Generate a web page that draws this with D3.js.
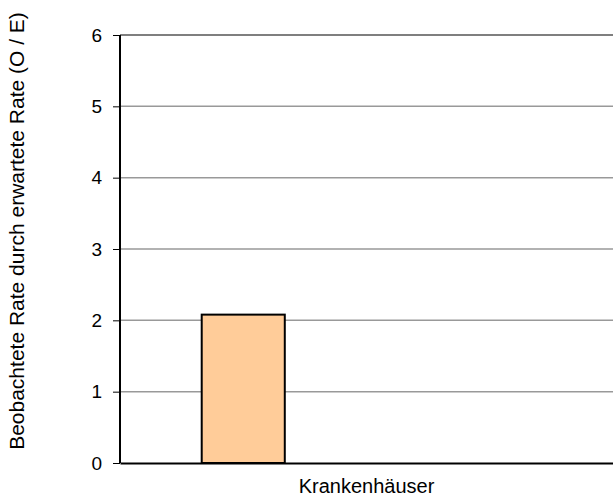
<!DOCTYPE html>
<html>
<head>
<meta charset="utf-8">
<script src="https://cdn.jsdelivr.net/npm/d3@7"></script>
<style>
  html, body { margin: 0; padding: 0; background: #fff; }
  svg text { font-family: "Liberation Sans", Arial, sans-serif; fill: #000; }
</style>
</head>
<body>
<svg id="chart" width="613" height="498"></svg>
<script>
// Observed / expected ratio per hospital group
const categories = ["Krankenhäuser"];
const seriesNames = ["O/E", "Referenz"];
const seriesValues = [2.08, null];
const yTicks = [0, 1, 2, 3, 4, 5, 6];
const yTitle = "Beobachtete Rate durch erwartete Rate (O / E)";

const svg = d3.select("#chart");
const margin = { top: 35, right: 0, bottom: 35, left: 120 };
const width = 613 - margin.left - margin.right;
const height = 498 - margin.top - margin.bottom;

const g = svg.append("g").attr("transform", `translate(${margin.left},${margin.top})`);

const x = d3.scaleBand().domain(categories).range([0, width]).padding(0);
const xs = d3.scaleBand().domain(seriesNames).range([0, x.bandwidth()])
  .paddingInner(0.663).paddingOuter(0.3315);
const y = d3.scaleLinear().domain([0, 6]).range([height, 0]);

// horizontal gridlines
g.append("g").selectAll("line").data(yTicks.filter(t => t > 0)).join("line")
  .attr("x1", 0).attr("x2", width)
  .attr("y1", d => y(d)).attr("y2", d => y(d))
  .attr("stroke", d => d === 6 ? "#555" : "#999")
  .attr("stroke-width", 1.5);

// bars
const bars = categories.map(c => seriesNames.map((s, i) => ({ c, s, v: seriesValues[i] })))
  .flat().filter(d => d.v != null);
g.append("g").selectAll("rect").data(bars).join("rect")
  .attr("x", d => x(d.c) + xs(d.s))
  .attr("width", xs.bandwidth())
  .attr("y", d => y(d.v))
  .attr("height", d => y(0) - y(d.v))
  .attr("fill", "#FFCC99")
  .attr("stroke", "#000")
  .attr("stroke-width", 2);

// y axis
const yAxis = g.append("g")
  .call(d3.axisLeft(y).tickValues(yTicks).tickFormat(d3.format("d")).tickSize(7).tickPadding(11));
yAxis.select(".domain").attr("stroke", "#000").attr("stroke-width", 2).attr("d", `M0,${height}V0`);
yAxis.selectAll(".tick line").attr("stroke", "#000").attr("stroke-width", 1);
yAxis.selectAll(".tick text").attr("font-size", 19).attr("fill", "#000")
  .style("font-family", "Liberation Sans, Arial, sans-serif");

// x axis baseline
const xAxis = g.append("g").attr("transform", `translate(0,${height})`)
  .call(d3.axisBottom(x).tickSize(0).tickPadding(16));
xAxis.select(".domain").attr("stroke", "#000").attr("stroke-width", 2);
xAxis.selectAll(".tick text").attr("font-size", 20).attr("fill", "#000")
  .style("font-family", "Liberation Sans, Arial, sans-serif");

// y title
svg.append("text")
  .attr("transform", `translate(24,231) rotate(-90)`)
  .attr("text-anchor", "middle")
  .attr("font-size", 21)
  .text(yTitle);
</script>
</body>
</html>
